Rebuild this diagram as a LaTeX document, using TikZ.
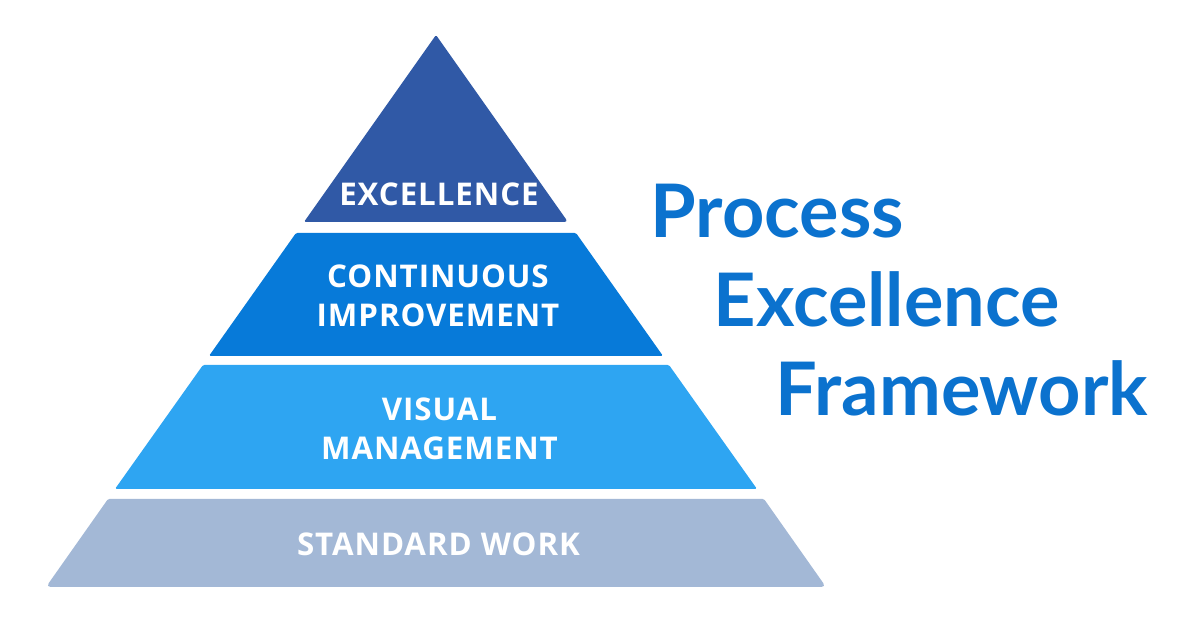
\documentclass[tikz,border=0pt]{standalone}
\usepackage{fontspec}
\setmainfont{Open Sans}
\newfontfamily\titlefont{Lato}
\newfontfamily\lvlfont[LetterSpace=3]{Open Sans}
\definecolor{topblue}{RGB}{48,89,166}
\definecolor{midblue}{RGB}{7,122,217}
\definecolor{skyblue}{RGB}{46,165,242}
\definecolor{greyblue}{RGB}{163,184,214}
\definecolor{titleblue}{RGB}{11,114,206}
\begin{document}
\begin{tikzpicture}[
    x=0.01cm, y=-0.01cm,
    % Stile per i livelli della piramide
    layer/.style={rounded corners=0.4pt},
    % Stile per le etichette dei livelli
    lvl/.style={align=center, text=white, inner sep=0pt,
        font=\lvlfont\bfseries\fontsize{8.9}{11.1}\selectfont},
    % Stile per le righe del titolo
    ttl/.style={anchor=base west, inner sep=0pt, text=titleblue,
        font=\titlefont\bfseries\fontsize{21}{25}\selectfont}
]
\useasboundingbox (0,0) rectangle (1200,628);

% --- PIRAMIDE ---
\fill[layer, topblue]  (436,35) [rounded corners=1pt] -- (568,222) [rounded corners=0.4pt] -- (304,222) -- cycle;
\fill[layer, midblue]  (296,233) -- (576,233) -- (663,356) -- (209,356) -- cycle;
\fill[layer, skyblue]  (203,365) -- (669,365) -- (757,489) -- (115,489) -- cycle;
\fill[layer, greyblue] (108,499) -- (764,499) [rounded corners=1.3pt] -- (826,587) -- (46,587) [rounded corners=0.4pt] -- cycle;

% --- ETICHETTE ---
\node[lvl] (excellence) at (439,194.5) {EXCELLENCE};
\node[lvl] (improvement) at (438,295.5) {CONTINUOUS\\IMPROVEMENT};
\node[lvl] (visual) at (439.5,428.5) {VISUAL\\MANAGEMENT};
\node[lvl] (standard) at (438.5,544.5) {STANDARD WORK};

% --- TITOLO ---
\node[ttl] (process) at (650,238) {Process};
\node[ttl] (excel) at (713,327) {Excellence};
\node[ttl] (framework) at (775,416) {Framework};

\end{tikzpicture}
\end{document}
